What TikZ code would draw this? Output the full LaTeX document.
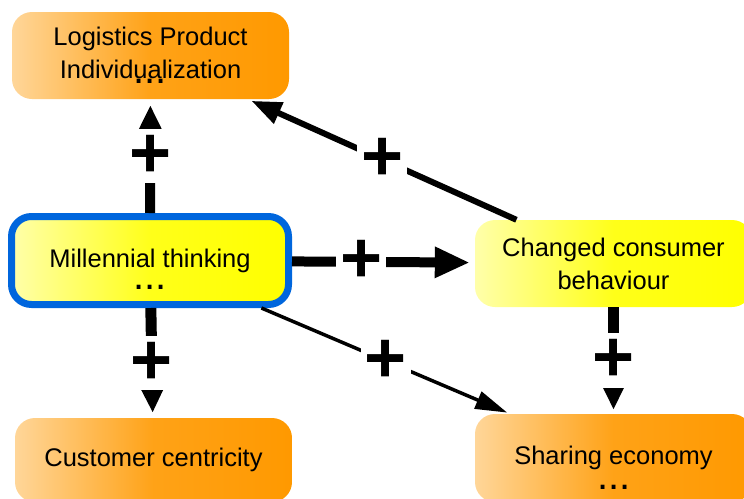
\documentclass[tikz,border=0pt]{standalone}
\usepackage{fontspec}
\setmainfont{Liberation Sans}
\usetikzlibrary{arrows.meta}

\definecolor{orlight}{RGB}{255,214,153}
\definecolor{ordark}{RGB}{255,153,0}
\definecolor{yelight}{RGB}{255,255,170}
\definecolor{yedark}{RGB}{255,255,0}
\definecolor{frameblue}{RGB}{0,102,221}

\tikzset{
  box/.style={rectangle, rounded corners=20pt, minimum width=277pt, minimum height=87pt,
    inner sep=0pt, align=center, font=\fontsize{25.5}{33}\selectfont},
  orangebox/.style={box, left color=orlight, right color=ordark, middle color=ordark!85!orlight},
  yellowbox/.style={box, left color=yelight, right color=yedark, middle color=yedark!85!yelight},
  sign/.style={fill=white, inner xsep=4pt, inner ysep=6pt, font=\fontsize{72}{72}\selectfont\bfseries},
  dots/.style={anchor=base, inner sep=0pt, font=\fontsize{40}{40}\selectfont},
  link/.style={line width=10pt, -{Triangle[length=25pt,width=22pt]}, shorten >=5pt},
}

\begin{document}
\begin{tikzpicture}[x=1pt,y=-1pt]
        \clip (0,0) rectangle (744,498);

        % the boxes
        \node[orangebox, text depth=6pt] (logi) at (150.5,55.5) {Logistics Product\\Individualization};
        \node[yellowbox, draw=frameblue, line width=7pt, minimum height=88pt] (mill) at (150,260.5) {Millennial thinking};
        \node[yellowbox] (chg) at (613.5,263.5) {Changed consumer\\behaviour};
        \node[orangebox, minimum height=84pt] (cust) at (153.5,460) {Customer centricity};
        \node[orangebox, minimum height=88pt] (shr) at (613.5,458) {Sharing economy};

        % the dots under some texts
        \node[dots] (logidots) at (150,83) {...};
        \node[dots] (milldots) at (150,289) {...};
        \node[dots] (shrdots) at (614,489) {...};

        % the positive links
        \draw[link, shorten >=6pt] (mill) -- node[sign] (plusa) {+} (logi);
        \draw[link, line width=6pt, -{Triangle[length=30pt,width=22pt]}, shorten >=4pt]
                (chg) -- node[sign] (plusb) {+} (logi);
        \draw[link, -{Triangle[length=35pt,width=29pt]}] (mill) -- node[sign, pos=0.38] (plusc) {+} (chg);
        \draw[link, line width=11pt] (mill) -- node[sign] (plusd) {+} (cust);
        \draw[link, line width=3.5pt, -{Triangle[length=32pt,width=18pt]}, shorten >=3pt]
                (mill) -- node[sign] (pluse) {+} (shr);
        \draw[link, line width=11pt, shorten >=4pt] (chg) -- node[sign] (plusf) {+} (shr);
\end{tikzpicture}
\end{document}
